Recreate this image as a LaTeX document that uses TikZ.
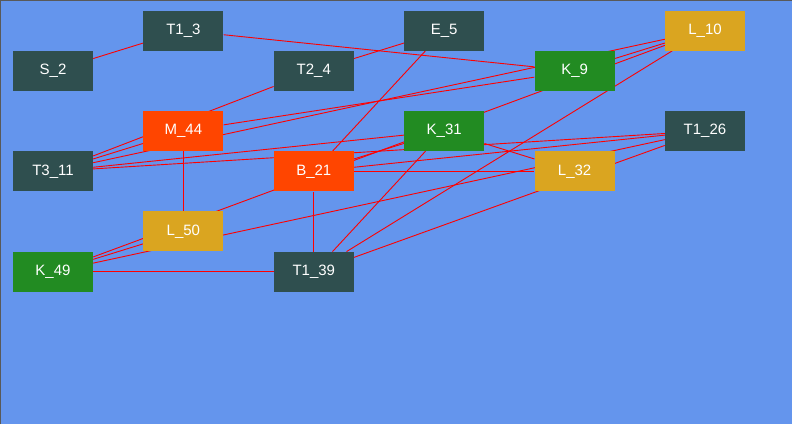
\documentclass[tikz,border=0pt]{standalone}
\usepackage{fontspec}
\setmainfont{Liberation Sans}
\usetikzlibrary{positioning, backgrounds}
\definecolor{skyback}{RGB}{100,149,237}
\definecolor{dslate}{RGB}{47,79,79}
\definecolor{ored}{RGB}{255,69,0}
\definecolor{fgreen}{RGB}{34,139,34}
\definecolor{gold}{RGB}{218,165,32}
\tikzset{
    vbox/.style={rectangle, minimum width=80pt, minimum height=40pt,
                 inner sep=0pt, text=white, font=\fontsize{15}{18}\selectfont},
    tbox/.style={vbox, fill=dslate},
    mbox/.style={vbox, fill=ored},
    kbox/.style={vbox, fill=fgreen},
    lbox/.style={vbox, fill=gold},
    link/.style={draw=red, line width=0.9pt},
    frame/.style={draw=gray!70!black, line width=1pt},
}

\begin{document}
\begin{tikzpicture}[
        node distance=60pt and 50pt
    ]
        \useasboundingbox (0,0) rectangle (792pt,424pt);
        % first column
        \node[tbox] (s2) at (53pt,353pt) {S\_2};
        \node[tbox, below=of s2] (t311) {T3\_11};
        \node[kbox, below=of t311] (k49) {K\_49};
        % second column
        \node[tbox, above right=0pt and 50pt of s2] (t13) {T1\_3};
        \node[mbox, below=of t13] (m44) {M\_44};
        \node[lbox, below=of m44] (l50) {L\_50};
        % third column
        \node[tbox, below right=0pt and 50pt of t13] (t24) {T2\_4};
        \node[mbox, below=of t24] (b21) {B\_21};
        \node[tbox, below=of b21] (t139) {T1\_39};
        % fourth column
        \node[tbox, above right=0pt and 50pt of t24] (e5) {E\_5};
        \node[kbox, below=of e5] (k31) {K\_31};
        % fifth column
        \node[kbox, below right=0pt and 50pt of e5] (k9) {K\_9};
        \node[lbox, below=of k9] (l32) {L\_32};
        % sixth column
        \node[lbox, above right=0pt and 50pt of k9] (l10) {L\_10};
        \node[tbox, below=of l10] (t126) {T1\_26};

        \begin{scope}[on background layer]
            \fill[skyback] (0,0) rectangle (792pt,424pt);
            \draw[frame] (0.5pt,0) -- (0.5pt,423.5pt) -- (792pt,423.5pt);
            \draw[link] (s2) -- (t13);
            \draw[link] (t13) -- (k9);
            \draw[link] (t24) -- (e5);
            \draw[link] (t24) -- (t311);
            \draw[link] (e5) -- (b21);
            \draw[link] (t311) -- (m44);
            \draw[link] (t311) -- (l10);
            \draw[link] (t311) -- (k31);
            \draw[link] (t311) -- (t126);
            \draw[link] (m44) -- (k9);
            \draw[link] (m44) -- (l50);
            \draw[link] (b21) -- (k31);
            \draw[link] (b21) -- (t126);
            \draw[link] (b21) -- (l32);
            \draw[link] (b21) -- (t139);
            \draw[link] (k31) -- (l32);
            \draw[link] (k31) -- (t139);
            \draw[link] (k9) -- (l10);
            \draw[link] (t139) -- (l10);
            \draw[link] (t139) -- (t126);
            \draw[link] (k49) -- (t139);
            \draw[link] (k49) -- (l50);
            \draw[link] (k49) -- (l10);
            \draw[link] (k49) -- (t126);
        \end{scope}
    \end{tikzpicture}
\end{document}
